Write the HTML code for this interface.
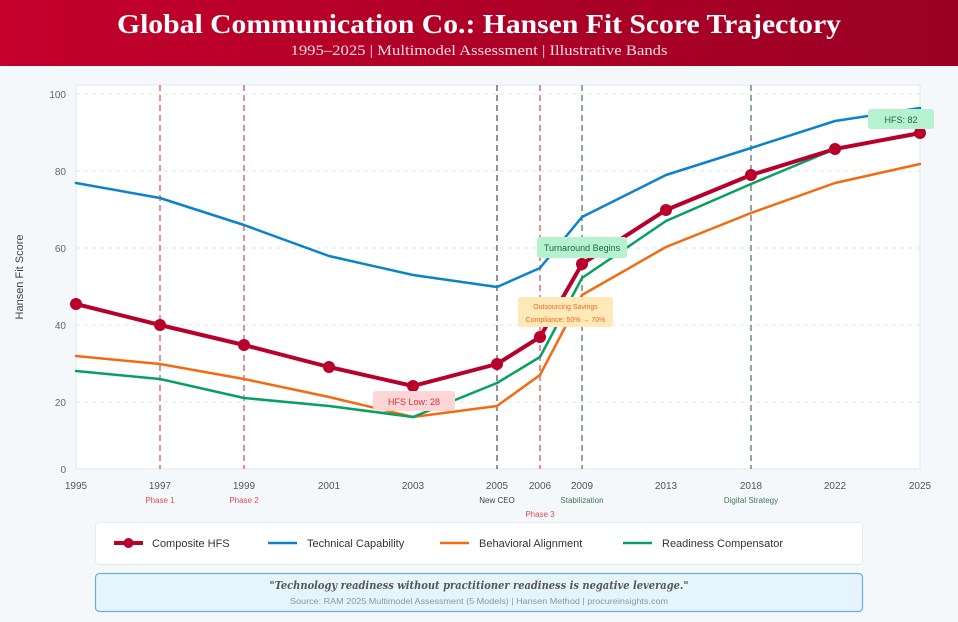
<!DOCTYPE html>
<html><head><meta charset="utf-8"><style>
html,body{margin:0;padding:0;background:#f4f8fb;}
svg{display:block;}
</style></head><body>
<svg width="958" height="622" viewBox="0 0 958 622" xmlns="http://www.w3.org/2000/svg">
<defs>
<linearGradient id="hg" x1="0" y1="0" x2="1" y2="0">
<stop offset="0" stop-color="#c4002b"/><stop offset="1" stop-color="#9a0024"/>
</linearGradient>
</defs>
<rect x="0" y="0" width="958" height="622" fill="#f4f8fb"/>
<rect x="0" y="0" width="958" height="66" fill="url(#hg)"/>
<text x="479" y="33" text-anchor="middle" font-family="Liberation Serif, serif" font-weight="bold" font-size="27" fill="#ffffff" textLength="724" lengthAdjust="spacingAndGlyphs">Global Communication Co.: Hansen Fit Score Trajectory</text>
<text x="479" y="55" text-anchor="middle" font-family="Liberation Serif, serif" font-size="15" fill="#f6dbe0" textLength="377" lengthAdjust="spacingAndGlyphs">1995–2025 | Multimodel Assessment | Illustrative Bands</text>

<!-- plot area -->
<rect x="76" y="85" width="844" height="384" fill="#ffffff" stroke="#e6edf2" stroke-width="1.5"/>
<g stroke="#e3e6ea" stroke-width="1" stroke-dasharray="4,4">
<line x1="76" y1="94" x2="920" y2="94"/>
<line x1="76" y1="171" x2="920" y2="171"/>
<line x1="76" y1="248" x2="920" y2="248"/>
<line x1="76" y1="325" x2="920" y2="325"/>
<line x1="76" y1="402" x2="920" y2="402"/>
</g>
<g font-family="Liberation Sans, sans-serif" font-size="10" fill="#666" text-anchor="end">
<text x="66" y="98">100</text>
<text x="66" y="175">80</text>
<text x="66" y="252">60</text>
<text x="66" y="329">40</text>
<text x="66" y="406">20</text>
<text x="66" y="473">0</text>
</g>
<text transform="translate(23,277) rotate(-90)" text-anchor="middle" font-family="Liberation Sans, sans-serif" font-size="11" fill="#444">Hansen Fit Score</text>

<!-- vertical event lines -->
<g stroke-width="1.5" stroke-dasharray="6,4" fill="none">
<line x1="160" y1="85" x2="160" y2="469" stroke="#e46a72"/>
<line x1="244" y1="85" x2="244" y2="469" stroke="#e46a72"/>
<line x1="497" y1="85" x2="497" y2="469" stroke="#6e6e6e"/>
<line x1="540" y1="85" x2="540" y2="469" stroke="#e46a72"/>
<line x1="582" y1="85" x2="582" y2="469" stroke="#6a8f72"/>
<line x1="751" y1="85" x2="751" y2="469" stroke="#6a8f72"/>
</g>

<!-- series -->
<g fill="none" stroke-linejoin="round" stroke-linecap="round">
<polyline stroke="#0a82cc" stroke-width="2.5" points="76,183 160,198 244,225 329,256 413,275 497,287 540,268 582,217 666,175 751,148 835,121 920,108"/>
<polyline stroke="#f26b12" stroke-width="2.5" points="76,356 160,364 244,379 329,397 413,417 497,406 540,375 582,295 666,247 751,213 835,183 920,164"/>
<polyline stroke="#06a062" stroke-width="2.5" points="76,371 160,379 244,398 329,406 413,417 497,383 540,357 582,278 666,221 751,184 835,149 920,134"/>
<polyline stroke="#b8002a" stroke-width="4" points="76,304 160,325 244,345 329,367 413,386 497,364 540,337 582,264 666,210 751,175 835,149 920,133"/>
</g>
<g fill="#b8002a">
<circle cx="76" cy="304" r="6"/><circle cx="160" cy="325" r="6"/><circle cx="244" cy="345" r="6"/>
<circle cx="329" cy="367" r="6"/><circle cx="413" cy="386" r="6"/><circle cx="497" cy="364" r="6"/>
<circle cx="540" cy="337" r="6"/><circle cx="582" cy="264" r="6"/><circle cx="666" cy="210" r="6"/>
<circle cx="751" cy="175" r="6"/><circle cx="835" cy="149" r="6"/><circle cx="920" cy="133" r="6"/>
</g>

<!-- annotations -->
<rect x="373" y="391" width="82" height="20" rx="3" fill="#ffd5d5"/>
<text x="414" y="405" text-anchor="middle" font-family="Liberation Sans, sans-serif" font-size="9" fill="#d0333d">HFS Low: 28</text>
<rect x="518" y="297" width="95" height="30" rx="3" fill="#ffe9b8"/>
<text x="565.5" y="309" text-anchor="middle" font-family="Liberation Sans, sans-serif" font-size="7" fill="#f06a1e">Outsourcing Savings</text>
<text x="565.5" y="322" text-anchor="middle" font-family="Liberation Sans, sans-serif" font-size="7" fill="#f06a1e">Compliance: 50% → 70%</text>
<rect x="537" y="237" width="90" height="21" rx="3" fill="#b6f2cf"/>
<text x="582" y="251" text-anchor="middle" font-family="Liberation Sans, sans-serif" font-size="9" fill="#1f6a3f">Turnaround Begins</text>
<rect x="868" y="109" width="66" height="20" rx="3" fill="#b6f2cf"/>
<text x="901" y="123" text-anchor="middle" font-family="Liberation Sans, sans-serif" font-size="9" fill="#1f6a3f">HFS: 82</text>

<!-- x ticks -->
<g font-family="Liberation Sans, sans-serif" font-size="10" fill="#555" text-anchor="middle">
<text x="76" y="489">1995</text><text x="160" y="489">1997</text><text x="244" y="489">1999</text>
<text x="329" y="489">2001</text><text x="413" y="489">2003</text><text x="497" y="489">2005</text>
<text x="540" y="489">2006</text><text x="582" y="489">2009</text><text x="666" y="489">2013</text>
<text x="751" y="489">2018</text><text x="835" y="489">2022</text><text x="920" y="489">2025</text>
</g>
<g font-family="Liberation Sans, sans-serif" font-size="8" text-anchor="middle">
<text x="160" y="503" fill="#e04a55">Phase 1</text>
<text x="244" y="503" fill="#e04a55">Phase 2</text>
<text x="497" y="503" fill="#444">New CEO</text>
<text x="582" y="503" fill="#3f7a55">Stabilization</text>
<text x="751" y="503" fill="#3f7a55">Digital Strategy</text>
<text x="540" y="517" fill="#e04a55">Phase 3</text>
</g>

<!-- legend -->
<rect x="95.5" y="522.5" width="767" height="42" rx="4" fill="#ffffff" stroke="#e6ebf0"/>
<g font-family="Liberation Sans, sans-serif" font-size="11" fill="#333">
<line x1="114" y1="543" x2="143" y2="543" stroke="#b8002a" stroke-width="4"/>
<circle cx="128.5" cy="543" r="5" fill="#b8002a"/>
<text x="152" y="547">Composite HFS</text>
<line x1="268" y1="543" x2="297" y2="543" stroke="#0a82cc" stroke-width="2.5"/>
<text x="307" y="547">Technical Capability</text>
<line x1="440" y1="543" x2="469" y2="543" stroke="#f26b12" stroke-width="2.5"/>
<text x="479" y="547">Behavioral Alignment</text>
<line x1="623" y1="543" x2="652" y2="543" stroke="#06a062" stroke-width="2.5"/>
<text x="662" y="547">Readiness Compensator</text>
</g>

<!-- footer -->
<rect x="95.5" y="573.5" width="767" height="38" rx="4" fill="#e6f5fd" stroke="#6aaedb" stroke-width="1.2"/>
<text x="479" y="589" text-anchor="middle" font-family="DejaVu Serif, Liberation Serif, serif" font-style="italic" font-weight="bold" font-size="11" fill="#555" textLength="419" lengthAdjust="spacingAndGlyphs">"Technology readiness without practitioner readiness is negative leverage."</text>
<text x="479" y="604" text-anchor="middle" font-family="Liberation Sans, sans-serif" font-size="8.5" fill="#8a96a3" textLength="378" lengthAdjust="spacingAndGlyphs">Source: RAM 2025 Multimodel Assessment (5 Models) | Hansen Method | procureinsights.com</text>
</svg>
</body></html>
